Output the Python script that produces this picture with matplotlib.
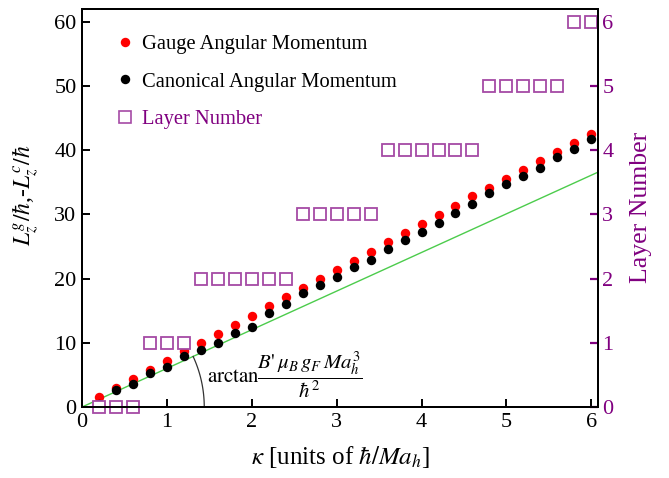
import numpy as np
import matplotlib
matplotlib.use("Agg")
import matplotlib.pyplot as plt
from matplotlib.lines import Line2D

plt.rcParams['font.family'] = ['Liberation Serif', 'DejaVu Serif']
plt.rcParams['mathtext.fontset'] = 'stix'

kappa = [0.2, 0.4, 0.6, 0.8, 1.0, 1.2, 1.4, 1.6, 1.8, 2.0,
         2.2, 2.4, 2.6, 2.8, 3.0, 3.2, 3.4, 3.6, 3.8, 4.0,
         4.2, 4.4, 4.6, 4.8, 5.0, 5.2, 5.4, 5.6, 5.8, 6.0]
gauge = [1.6, 3.0, 4.4, 5.7, 7.2, 8.7, 10.0, 11.4, 12.8, 14.2,
         15.7, 17.1, 18.5, 20.0, 21.4, 22.8, 24.2, 25.7, 27.1, 28.5,
         29.9, 31.3, 32.8, 34.2, 35.6, 37.0, 38.4, 39.8, 41.2, 42.6]
canonical = [0.5, 2.6, 3.6, 5.3, 6.3, 8.0, 8.9, 10.0, 11.5, 12.5,
             14.6, 16.0, 17.8, 19.0, 20.3, 21.8, 22.9, 24.6, 26.0, 27.2,
             28.6, 30.2, 31.7, 33.3, 34.8, 36.0, 37.3, 38.9, 40.2, 41.7]
layer = [0, 0, 0, 1, 1, 1, 2, 2, 2, 2,
         2, 2, 3, 3, 3, 3, 3, 4, 4, 4,
         4, 4, 4, 5, 5, 5, 5, 5, 6, 6]
line_x = [0.0, 6.08]
line_y = [0.0, 36.6]
slope = 6.02

purple = '#800080'
sq_color = '#a54aa5'

fig = plt.figure(figsize=(6.69, 4.78), dpi=100)
ax = fig.add_axes([0.1226, 0.1485, 0.894 - 0.1226, 0.981 - 0.1485])
ax2 = ax.twinx()

ax.plot(line_x, line_y, color='#4ccc4c', lw=1.0, zorder=2)
ax.plot(kappa, gauge, 'o', color='#ff0000', ms=6.8, mec='none', zorder=3)
ax.plot(kappa, canonical, 'o', color='#000000', ms=6.8, mec='none', zorder=4)
ax2.plot(kappa, layer, 's', mfc='white', mec=sq_color, ms=8.3, mew=1.3, ls='none',
         clip_on=False)

# arc marking the angle
Rx, Ry = 1.44, 18.9
t = np.linspace(0, np.arctan(slope * Rx / Ry), 60)
ax.plot(Rx * np.cos(t), Ry * np.sin(t), color='#333333', lw=0.9)
ax.text(1.47, 5.0,
        r"$\mathrm{arctan}\dfrac{B\text{'}\,\mu_B\,g_F\,Ma_h^3}{\hbar^2}$",
        fontsize=15, va='center', ha='left')

ax.set_xlim(0, 6.08)
ax.set_ylim(0, 62)
ax2.set_ylim(0, 6.2)
ax.set_xticks([0, 1, 2, 3, 4, 5, 6])
ax.set_yticks([0, 10, 20, 30, 40, 50, 60])
ax2.set_yticks([0, 1, 2, 3, 4, 5, 6])

for a in (ax, ax2):
    for s in a.spines.values():
        s.set_linewidth(1.4)
ax.tick_params(direction='in', length=6, width=1.4, labelsize=16, pad=4)
ax2.tick_params(direction='in', length=6, width=1.6, labelsize=16, colors=purple, pad=3)
ax2.spines['right'].set_color('black')

ax.set_xlabel(r"$\kappa$ [units of $\hbar/Ma_h$]", fontsize=18, labelpad=9)
ax.set_ylabel(r"$L_z^g/\hbar$,-$L_z^c/\hbar$", fontsize=17)
ax.yaxis.set_label_coords(-0.080, 0.533)
ax2.set_ylabel("Layer Number", fontsize=18.5, color=purple)
ax2.yaxis.set_label_coords(1.062, 0.502)

handles = [
    Line2D([], [], ls='none', marker='o', color='#ff0000', ms=6.8, mec='none'),
    Line2D([], [], ls='none', marker='o', color='#000000', ms=6.8, mec='none'),
    Line2D([], [], ls='none', marker='s', mfc='white', mec=sq_color, ms=8.3, mew=1.2),
]
labels = ["Gauge Angular Momentum", "Canonical Angular Momentum", "Layer Number"]
leg = ax2.legend(handles, labels, loc='upper left', bbox_to_anchor=(0.052, 0.956),
                 frameon=False, fontsize=14.8, handlelength=0.8, handletextpad=0.42,
                 labelspacing=0.88, borderaxespad=0)
leg.get_texts()[2].set_color(purple)

fig.savefig("out.png", dpi=100)
